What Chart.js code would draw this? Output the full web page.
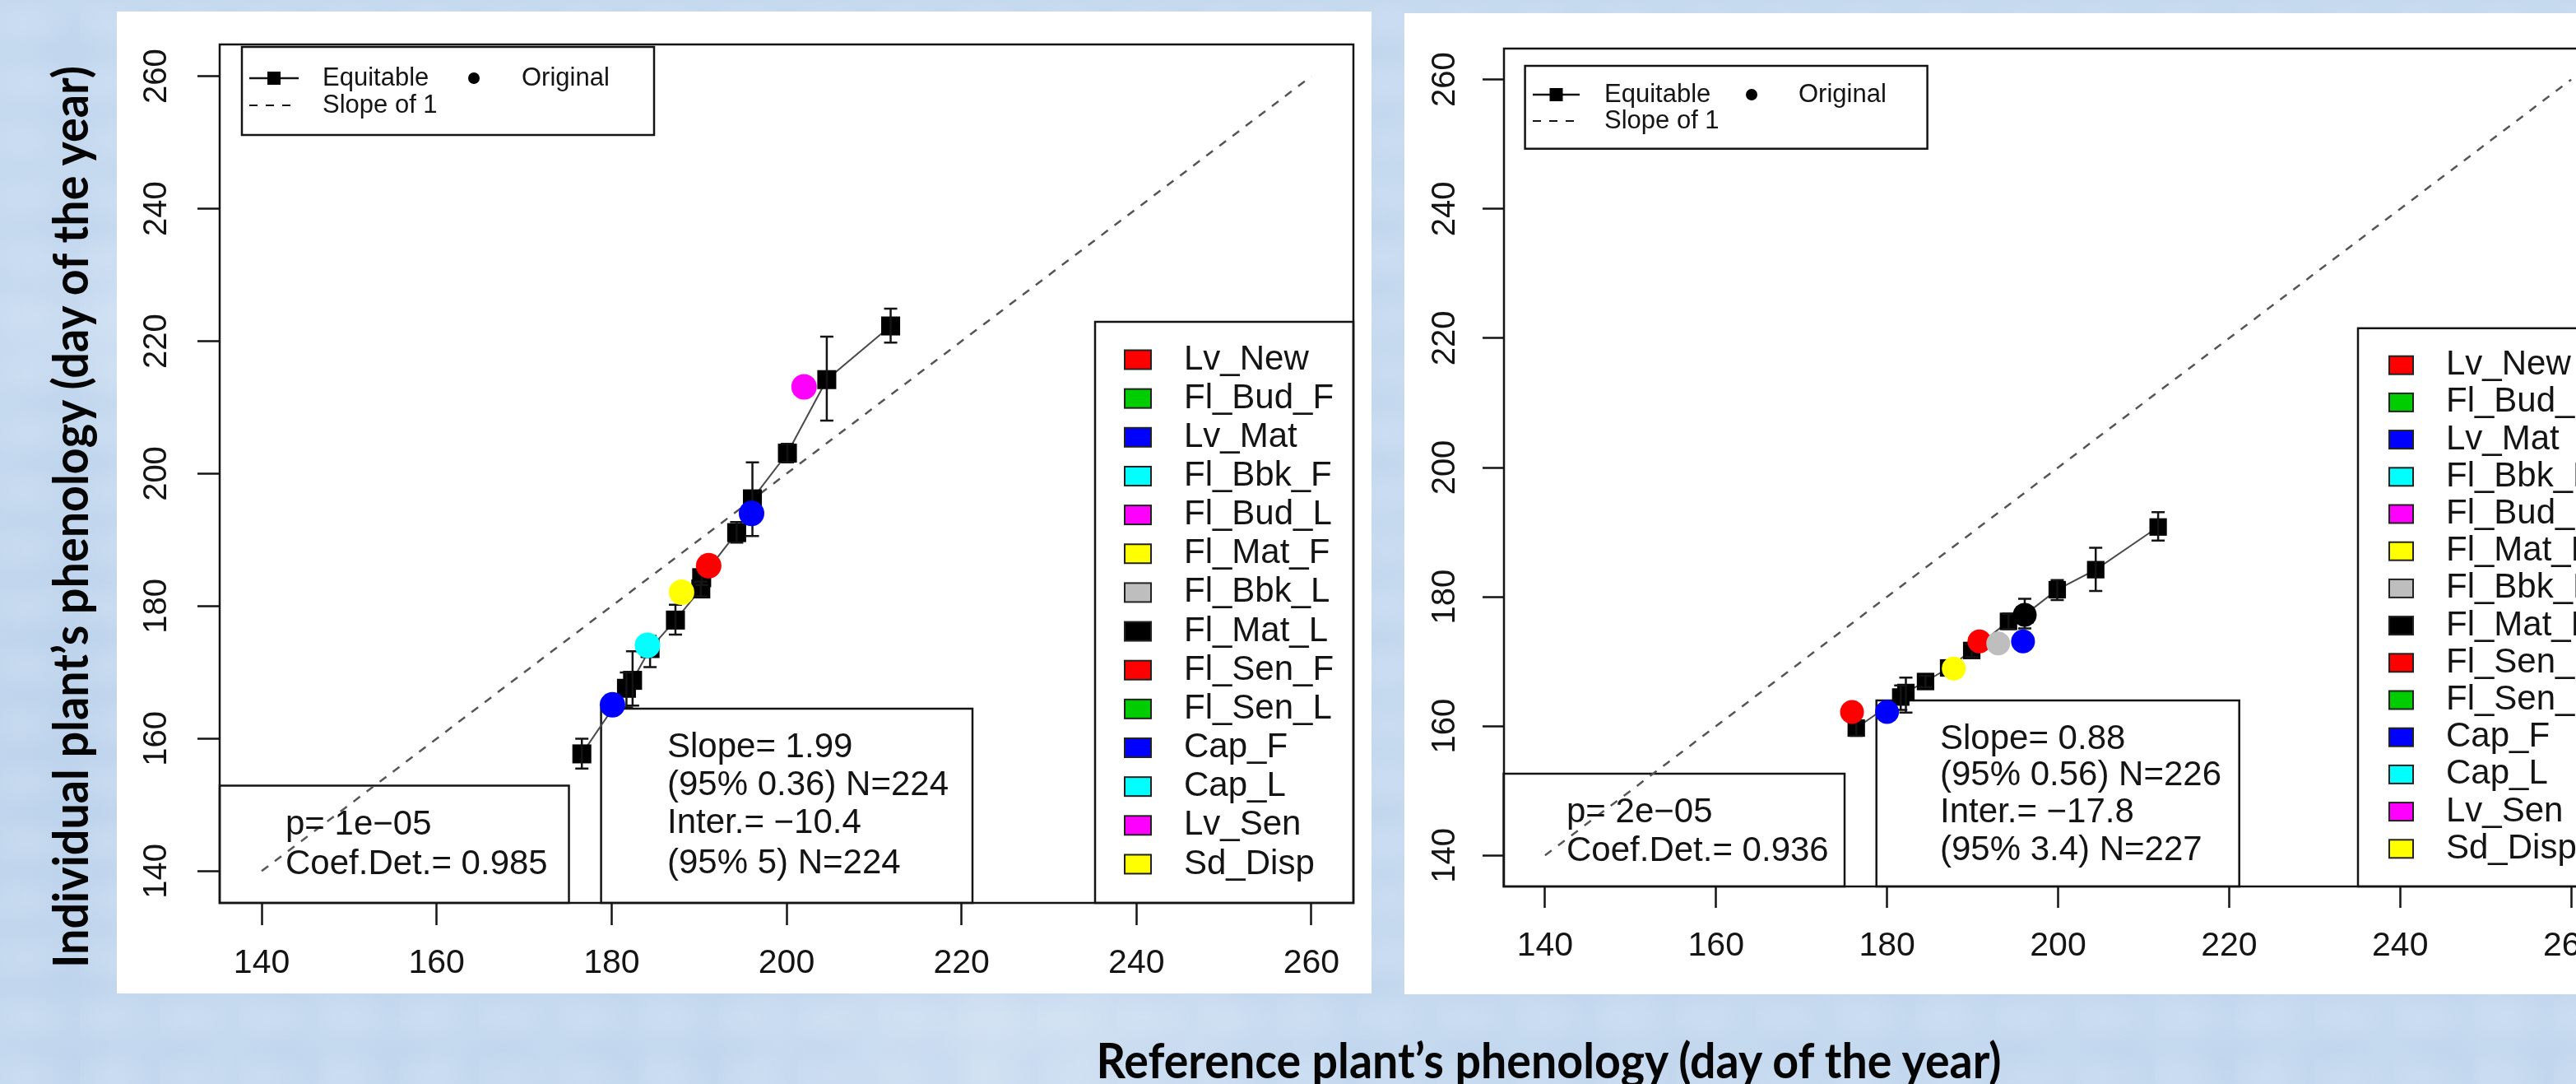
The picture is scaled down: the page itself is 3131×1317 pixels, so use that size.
<!DOCTYPE html>
<html>
<head>
<meta charset="utf-8">
<script src="https://cdn.jsdelivr.net/npm/chart.js@4.4.1/dist/chart.umd.min.js"></script>
<style>
  html, body { margin: 0; padding: 0; }
  body {
    width: 3131px; height: 1317px; overflow: hidden; position: relative;
    background-color: #c5d9ef;
    background-image:
      radial-gradient(ellipse 60% 45% at 35% 40%, rgba(232,241,251,0.18), transparent),
      radial-gradient(ellipse 50% 50% at 65% 55%, rgba(172,198,230,0.16), transparent),
      radial-gradient(ellipse 300px 120px at 8% 30%, rgba(255,255,255,0.22), transparent),
      radial-gradient(ellipse 400px 160px at 40% 96%, rgba(255,255,255,0.2), transparent),
      radial-gradient(ellipse 200px 500px at 2% 70%, rgba(175,200,230,0.3), transparent);
    background-size: 97px 71px, 131px 103px, auto, auto, auto;
  }
  .panel { position: absolute; background: #fff; }
  #leftPanel { left: 142px; top: 14px; width: 1525px; height: 1193px; }
  #rightPanel { left: 1707px; top: 16px; width: 1490px; height: 1192px; }
  .title {
    position: absolute; white-space: nowrap; line-height: 1;
    font-family: Lato, "Open Sans", sans-serif; font-weight: 700; font-size: 60px; color: #050505;
  }
</style>
</head>
<body>
<div id="leftPanel" class="panel"><canvas id="leftChart"></canvas></div>
<div id="rightPanel" class="panel"><canvas id="rightChart"></canvas></div>
<div id="yTitle" class="title">Individual plant’s phenology (day of the year)</div>
<div id="xTitle" class="title">Reference plant’s phenology (day of the year)</div>

<script>
// shared axis ticks and legend content
const xTicks = [140, 160, 180, 200, 220, 240, 260];
const yTicks = [140, 160, 180, 200, 220, 240, 260];
const slopeX = [140, 260];
const phaseNames = ['Lv_New', 'Fl_Bud_F', 'Lv_Mat', 'Fl_Bbk_F', 'Fl_Bud_L', 'Fl_Mat_F', 'Fl_Bbk_L',
  'Fl_Mat_L', 'Fl_Sen_F', 'Fl_Sen_L', 'Cap_F', 'Cap_L', 'Lv_Sen', 'Sd_Disp'];
const phaseColors = ['#ff0000', '#00cd00', '#0000ff', '#00ffff', '#ff00ff', '#ffff00', '#bebebe',
  '#000000', '#ff0000', '#00cd00', '#0000ff', '#00ffff', '#ff00ff', '#ffff00'];
const topLegendLabels = ['Equitable', 'Original', 'Slope of 1'];

// left panel
const leftEqX = [176.6, 181.7, 182.4, 184.4, 187.3, 190.2, 190.3, 194.3, 196.1, 200.1, 204.6, 211.9];
const leftEqY = [157.7, 167.6, 168.8, 173.6, 177.9, 182.6, 184.3, 191.1, 196.2, 203.1, 214.2, 222.3];
const leftEqLo = [155.5, 164.7, 165.0, 170.8, 175.7, 181.5, 183.2, 189.6, 190.6, 201.7, 208.0, 219.8];
const leftEqHi = [160.0, 170.0, 173.2, 175.5, 180.2, 183.7, 185.4, 192.7, 201.7, 204.5, 220.7, 224.9];
const leftOrigX = [180.1, 184.1, 188.0, 191.1, 196.0, 202.0];
const leftOrigY = [165.1, 174.1, 182.1, 186.1, 194.0, 213.1];
const leftOrigPhase = [2, 3, 5, 0, 10, 12];
const leftFitText = ['p= 1e\u221205', 'Coef.Det.= 0.985'];
const leftSlopeText = ['Slope= 1.99', '(95% 0.36) N=224', 'Inter.= \u221210.4', '(95% 5) N=224'];

// right panel
const rightEqX = [176.4, 181.6, 182.2, 184.5, 187.2, 189.9, 194.2, 196.1, 199.9, 204.4, 211.7];
const rightEqY = [159.7, 164.5, 165.2, 166.9, 169.0, 171.7, 176.2, 177.2, 181.1, 184.2, 190.8];
const rightEqLo = [158.5, 162.5, 162.1, 166.0, 168.2, 170.7, 175.0, 175.1, 179.5, 180.9, 188.7];
const rightEqHi = [160.9, 166.3, 167.5, 167.8, 169.8, 172.7, 177.4, 179.7, 182.6, 187.6, 193.1];
const rightOrigX = [175.9, 180.0, 187.8, 190.8, 193.0, 195.9, 196.1];
const rightOrigY = [162.2, 162.2, 168.9, 173.1, 172.8, 173.1, 177.2];
const rightOrigPhase = [0, 2, 5, 8, 6, 10, 7];
const rightFitText = ['p= 2e\u221205', 'Coef.Det.= 0.936'];
const rightSlopeText = ['Slope= 0.88', '(95% 0.56) N=226', 'Inter.= \u221217.8', '(95% 3.4) N=227'];

const FONT = '"Liberation Sans", Arial, sans-serif';
const INK = '#141414';

function txt(ctx, s, x, y, size) {
  ctx.font = size + 'px ' + FONT;
  ctx.fillStyle = INK;
  ctx.textAlign = 'left';
  ctx.textBaseline = 'middle';
  ctx.fillText(s, x, y);
}

// frame, boxes, error bars and the legends
const decor = {
  id: 'decor',
  beforeDatasetsDraw(chart, args, o) {
    const ctx = chart.ctx, a = chart.chartArea, L = o.layout;
    ctx.save();
    ctx.strokeStyle = INK;
    ctx.lineWidth = 2.5;
    ctx.strokeRect(a.left, a.top, a.right - a.left, a.bottom - a.top);
    ctx.strokeRect(L.topBox.x, L.topBox.y, L.topBox.w, L.topBox.h);
    ctx.strokeRect(L.boxA.x, L.boxA.y, L.boxA.w, a.bottom - L.boxA.y);
    ctx.strokeRect(L.boxB.x, L.boxB.y, L.boxB.w, a.bottom - L.boxB.y);
    ctx.strokeRect(L.phase.x, L.phase.y, a.right - L.phase.x, a.bottom - L.phase.y);
    ctx.restore();
  },
  afterDatasetDraw(chart, args, o) {
    if (args.index !== 1) return;
    const ctx = chart.ctx, xs = chart.scales.x, ys = chart.scales.y;
    ctx.save();
    ctx.strokeStyle = INK;
    ctx.lineWidth = 2.5;
    o.eqX.forEach((v, i) => {
      const px = xs.getPixelForValue(v);
      const lo = ys.getPixelForValue(o.eqLo[i]);
      const hi = ys.getPixelForValue(o.eqHi[i]);
      ctx.beginPath();
      ctx.moveTo(px, lo); ctx.lineTo(px, hi);
      ctx.moveTo(px - 8, lo); ctx.lineTo(px + 8, lo);
      ctx.moveTo(px - 8, hi); ctx.lineTo(px + 8, hi);
      ctx.stroke();
    });
    ctx.restore();
  },
  afterDraw(chart, args, o) {
    const ctx = chart.ctx, L = o.layout, t = L.topBox;
    ctx.save();
    // top legend
    ctx.strokeStyle = INK; ctx.lineWidth = 2.5;
    ctx.beginPath(); ctx.moveTo(t.symX1, t.row1); ctx.lineTo(t.symX2, t.row1); ctx.stroke();
    const cx = (t.symX1 + t.symX2) / 2;
    ctx.fillStyle = '#000';
    ctx.fillRect(cx - 8, t.row1 - 8, 16, 16);
    ctx.beginPath(); ctx.arc(t.dotX, t.row1, 7, 0, Math.PI * 2); ctx.fill();
    ctx.setLineDash([10, 10]); ctx.lineWidth = 2;
    ctx.beginPath(); ctx.moveTo(t.symX1, t.row2); ctx.lineTo(t.symX2, t.row2); ctx.stroke();
    ctx.setLineDash([]);
    txt(ctx, topLegendLabels[0], t.textX, t.row1, 31);
    txt(ctx, topLegendLabels[1], t.text2X, t.row1, 31);
    txt(ctx, topLegendLabels[2], t.textX, t.row2, 31);
    // stats boxes
    o.fitText.forEach((s, i) => txt(ctx, s, L.boxA.textX, L.boxA.rows[i], 42));
    o.slopeText.forEach((s, i) => txt(ctx, s, L.boxB.textX, L.boxB.rows[i], 42));
    // phenophase legend
    const p = L.phase;
    phaseNames.forEach((name, i) => {
      const y = p.row0 + i * p.step;
      ctx.fillStyle = phaseColors[i];
      ctx.fillRect(p.sqX, y - p.sqH / 2, p.sqW, p.sqH);
      ctx.lineWidth = 2; ctx.strokeStyle = '#222';
      ctx.strokeRect(p.sqX, y - p.sqH / 2, p.sqW, p.sqH);
      txt(ctx, name, p.textX, y, 42);
    });
    ctx.restore();
  }
};

function makeChart(id, L, eqX, eqY, eqLo, eqHi, origX, origY, origPhase, fitText, slopeText) {
  const axisBase = {
    type: 'linear', min: 135.2, max: 264.8,
    border: { display: false },
    grid: { display: true, drawOnChartArea: false, drawTicks: true, tickLength: L.tickLen, tickWidth: 2.5, tickColor: INK },
  };
  return new Chart(document.getElementById(id).getContext('2d'), {
    type: 'scatter',
    data: {
      datasets: [
        {
          label: 'Slope of 1',
          data: slopeX.map(v => ({ x: v, y: v })),
          showLine: true, borderColor: '#555', borderWidth: 2.5, borderDash: [10, 10],
          pointRadius: 0, order: 3,
        },
        {
          label: 'Equitable',
          data: eqX.map((v, i) => ({ x: v, y: eqY[i] })),
          showLine: true, borderColor: '#4a4a4a', borderWidth: 2,
          pointStyle: 'rect', pointRadius: L.sq, pointBackgroundColor: '#000', pointBorderColor: '#000',
          pointBorderWidth: 0, order: 2,
        },
        {
          label: 'Original',
          data: origX.map((v, i) => ({ x: v, y: origY[i] })),
          showLine: false,
          pointStyle: 'circle', pointRadius: L.dot, pointBorderWidth: 0,
          pointBackgroundColor: origPhase.map(k => phaseColors[k]),
          pointBorderColor: origPhase.map(k => phaseColors[k]),
          order: 1,
        },
      ]
    },
    options: {
      responsive: true, maintainAspectRatio: false, animation: false, devicePixelRatio: 1,
      layout: { padding: { top: L.padTop, right: L.padRight, left: 0, bottom: 0 } },
      plugins: {
        legend: { display: false },
        tooltip: { enabled: false },
        decor: { layout: L, eqX: eqX, eqLo: eqLo, eqHi: eqHi, fitText: fitText, slopeText: slopeText },
      },
      scales: {
        x: Object.assign({}, axisBase, {
          afterBuildTicks: s => { s.ticks = xTicks.map(v => ({ value: v })); },
          afterFit: s => { s.height = L.xAxisH; },
          ticks: { autoSkip: false, maxRotation: 0, padding: L.xPad, color: INK, font: { family: FONT, size: 41 } },
        }),
        y: Object.assign({}, axisBase, {
          afterBuildTicks: s => { s.ticks = yTicks.map(v => ({ value: v })); },
          afterFit: s => { s.width = L.yAxisW; },
          ticks: { autoSkip: false, minRotation: 90, maxRotation: 90, crossAlign: 'center', padding: L.yPad,
            color: INK, font: { family: FONT, size: 40 } },
        }),
      }
    },
    plugins: [decor]
  });
}

const leftLayout = {
  yAxisW: 125, xAxisH: 110, padTop: 23, padRight: 22, tickLen: 27, xPad: 22, yPad: 16, sq: 16.3, dot: 15.5,
  topBox: { x: 152, y: 43, w: 501, h: 107, row1: 81, row2: 114, symX1: 161, symX2: 221, textX: 250, dotX: 434, text2X: 492 },
  boxA: { x: 125, y: 940.5, w: 424.5, textX: 205, rows: [988.7, 1036] },
  boxB: { x: 588.6, y: 847, w: 451.4, textX: 669, rows: [894.5, 940.4, 986.3, 1035] },
  phase: { x: 1189, y: 377, sqX: 1225, sqW: 32, sqH: 23, textX: 1297, row0: 423, step: 47.15 },
};
const rightLayout = {
  yAxisW: 121, xAxisH: 131, padTop: 43, padRight: 22, tickLen: 26, xPad: 22, yPad: 12, sq: 15, dot: 14.5,
  topBox: { x: 146.6, y: 64, w: 489, h: 100.7, row1: 99, row2: 131, symX1: 156, symX2: 213, textX: 243, dotX: 422, text2X: 479 },
  boxA: { x: 120.6, y: 924, w: 414.4, textX: 197, rows: [971, 1018] },
  boxB: { x: 573.7, y: 835, w: 441, textX: 651, rows: [882, 926, 971, 1017] },
  phase: { x: 1159, y: 382.8, sqX: 1197, sqW: 29, sqH: 22, textX: 1266, row0: 427.7, step: 45.2 },
};

makeChart('leftChart', leftLayout, leftEqX, leftEqY, leftEqLo, leftEqHi, leftOrigX, leftOrigY, leftOrigPhase, leftFitText, leftSlopeText);
makeChart('rightChart', rightLayout, rightEqX, rightEqY, rightEqLo, rightEqHi, rightOrigX, rightOrigY, rightOrigPhase, rightFitText, rightSlopeText);

// axis titles: centred and stretched to the measured length
function placeTitle(id, cx, cy, len, rotated) {
  const el = document.getElementById(id);
  const w = el.offsetWidth, h = el.offsetHeight;
  el.style.left = (cx - w / 2) + 'px';
  el.style.top = (cy - h / 2) + 'px';
  el.style.transform = (rotated ? 'rotate(-90deg) ' : '') + 'scaleX(' + (len / w) + ')';
}
placeTitle('yTitle', 84, 628, 1096, true);
placeTitle('xTitle', 1882, 1287, 1100, false);
</script>
</body>
</html>
